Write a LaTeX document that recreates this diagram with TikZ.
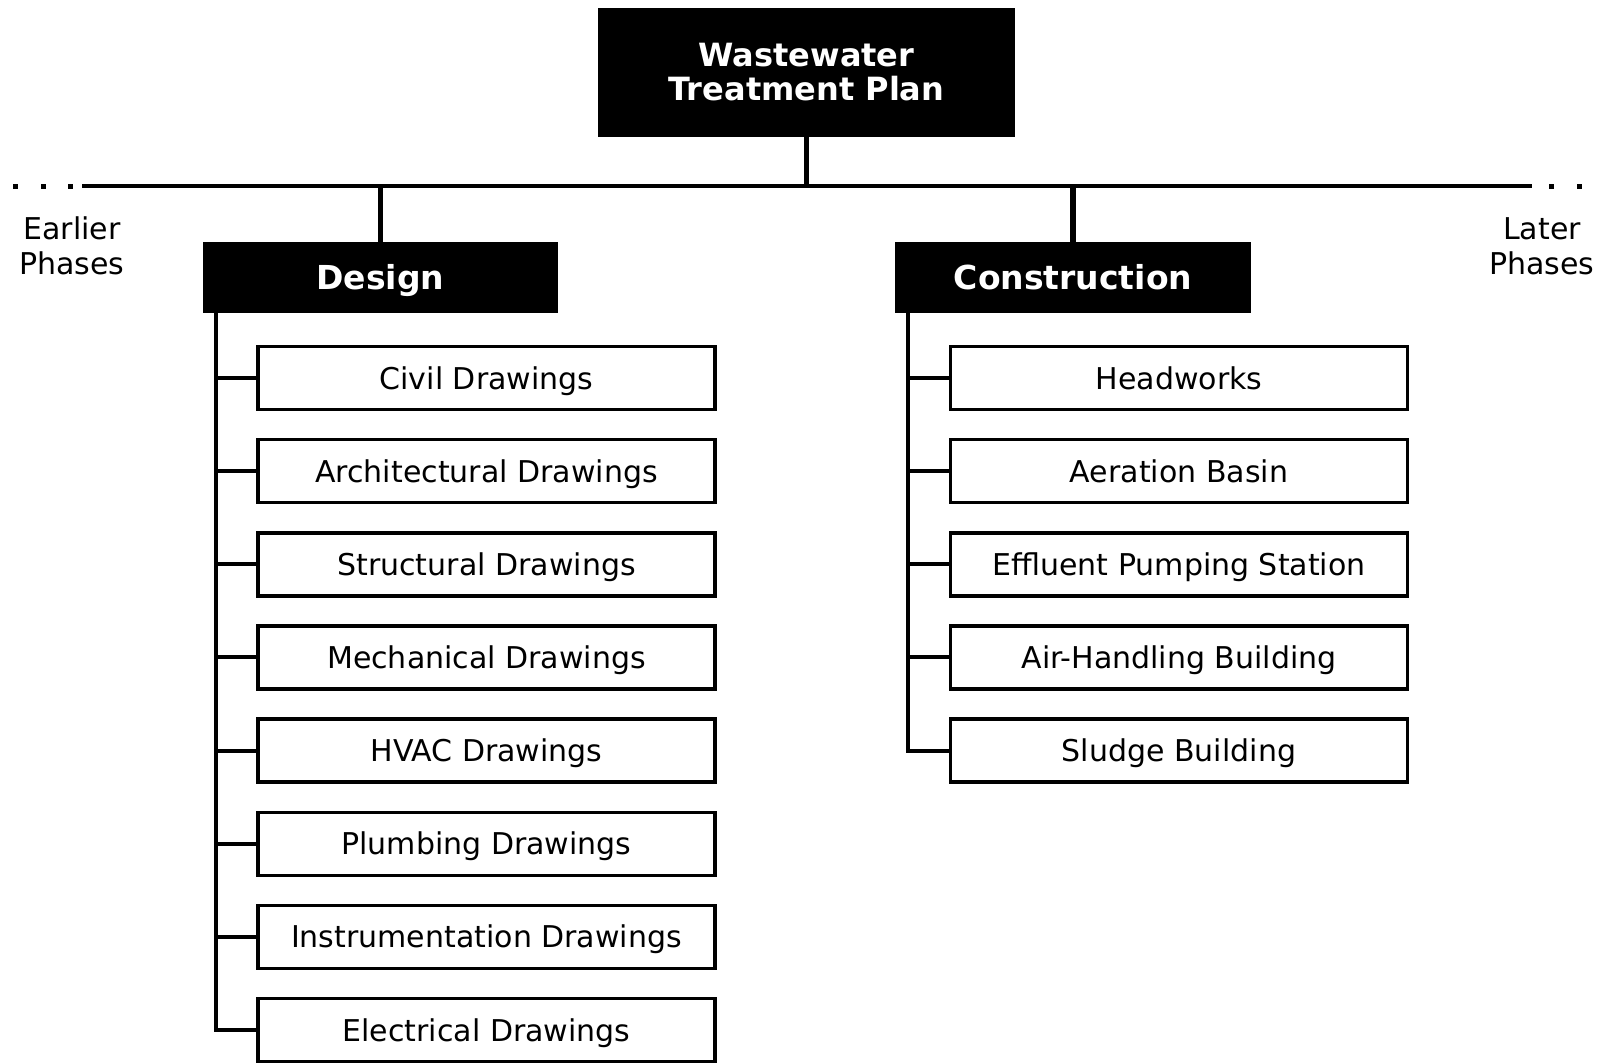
\documentclass[tikz,border=0pt]{standalone}
\usepackage{fontspec}
\setmainfont{DejaVu Sans}
\begin{document}
\begin{tikzpicture}[x=1pt,y=-1pt,
  head/.style={fill=black,text=white,inner sep=0pt,text height=24pt,text depth=0pt,font=\bfseries\fontsize{33}{34}\selectfont},
  child/.style={draw=black,line width=3.5pt,fill=white,minimum width=457pt,minimum height=63pt,inner sep=0pt,text height=22pt,text depth=0pt,font=\fontsize{30}{32}\selectfont},
  phase/.style={align=center,inner sep=0pt,font=\fontsize{30}{35}\selectfont},
  conn/.style={line width=4pt},
  thick conn/.style={line width=5.5pt}]
\useasboundingbox (0,0) rectangle (1610,1063);
% top
\node[fill=black,text=white,inner sep=0pt,minimum width=417pt,minimum height=129pt,align=center,font=\bfseries\fontsize{32}{34}\selectfont] (top) at (806.5,72) {Wastewater\\Treatment Plan};
\node[head,minimum width=355pt,minimum height=71pt] (design) at (380.5,277.5) {Design};
\node[head,minimum width=356pt,minimum height=71pt] (constr) at (1073,277.5) {Construction};
% phase line
\coordinate (hl) at (82,186);
\coordinate (hr) at (1532,186);
\draw[conn] (hl) -- (hr);
\foreach \x in {15,43,70,1551,1579} \fill (\x-2.5,184) rectangle (\x+2.5,188.5);
\node[phase] (earlier) at (72,246) {Earlier\\Phases};
\node[phase] (later) at (1542,246) {Later\\Phases};
\draw[thick conn] (top.south) -- (top.south |- hl);
\draw[thick conn] (design.north) -- (design.north |- hl);
\draw[thick conn] (constr.north) -- (constr.north |- hl);
% design children
\coordinate (dsp) at (216,313);
\foreach \i/\t [count=\k] in {0/Civil Drawings,1/Architectural Drawings,2/Structural Drawings,3/Mechanical Drawings,4/HVAC Drawings,5/Plumbing Drawings,6/Instrumentation Drawings,7/Electrical Drawings}
  \node[child] (d\k) at (486.5,378+93.15*\i) {\t};
\draw[conn] (dsp) |- (d8.west);
\foreach \k in {1,...,7} \draw[conn] (d\k.west) -- (d\k.west -| dsp);
% construction children
\coordinate (csp) at (908,313);
\foreach \i/\t [count=\k] in {0/Headworks,1/Aeration Basin,2/Effluent Pumping Station,3/Air-Handling Building,4/Sludge Building}
  \node[child] (c\k) at (1179,378+93.15*\i) {\t};
\draw[conn] (csp) |- (c5.west);
\foreach \k in {1,...,4} \draw[conn] (c\k.west) -- (c\k.west -| csp);
\end{tikzpicture}
\end{document}
